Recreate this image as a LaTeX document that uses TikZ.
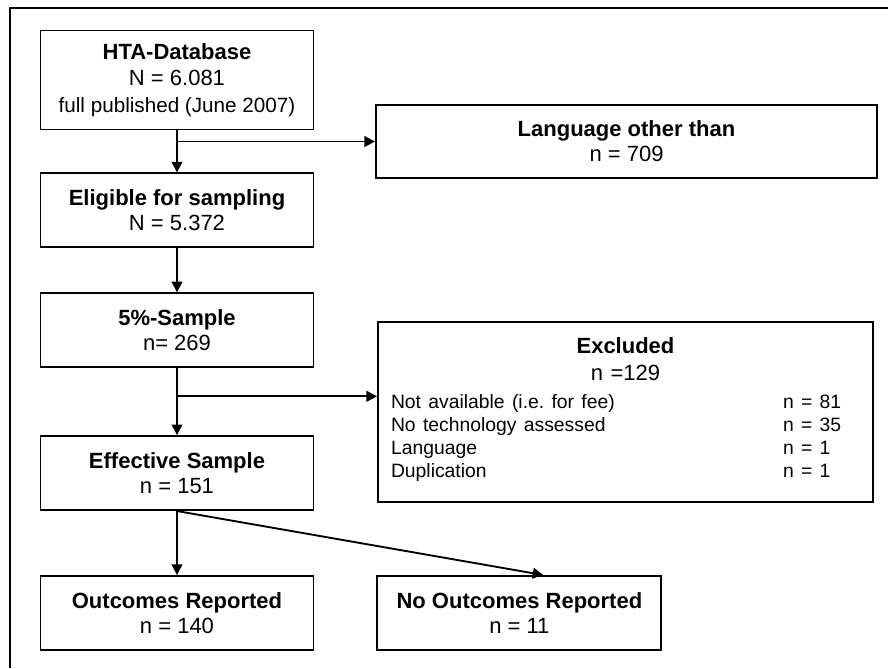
\documentclass[tikz,border=0pt]{standalone}
\usepackage{fontspec}
\setmainfont{Liberation Sans}
\usetikzlibrary{arrows.meta,positioning,calc}
\tikzset{
  >={Triangle[length=8pt,width=8pt]},
  every picture/.append style={line width=1.4pt},
}
\newcommand{\exclrow}[2]{\makebox[\linewidth][l]{\fontsize{14.5}{17.25}\selectfont\makebox[294pt][l]{#1}#2}}

\begin{document}
\begin{tikzpicture}[
  x=0.75pt, y=-0.75pt,
  font=\fontsize{16.5}{18.75}\selectfont,
  box/.style={rectangle, draw, align=center, inner sep=0pt, minimum width=204.75pt, minimum height=55.5pt},
  widebox/.style={box, minimum width=375.75pt},
  arrow/.style={->},
  frame/.style={line width=2pt}
]

\useasboundingbox (0,0) rectangle (888,668);
\draw[frame] (10,668) -- (10,8) -- (888,8);

% --- main column ---
\node[box, minimum height=74.25pt] (hta) at (177,80) {%
  \textbf{HTA-Database}\\[0.5pt]
  N = 6.081\\[1.5pt]
  {\fontsize{15.5}{17}\selectfont full published (June 2007)}
};
\node[box, below=31.5pt of hta] (elig) {\textbf{Eligible for sampling}\\ N = 5.372};
\node[box, below=33pt of elig] (samp) {\textbf{5\%-Sample}\\ n= 269};
\node[box, below=50.25pt of samp] (eff) {\textbf{Effective Sample}\\ n = 151};
\node[box, below=48pt of eff] (outc) {\textbf{Outcomes Reported}\\ n = 140};
\node[box, minimum width=213pt, right=46.5pt of outc] (noout) {\textbf{No Outcomes Reported}\\ n = 11};

% --- side boxes ---
\node[widebox, minimum height=54.75pt] (lang) at (626.5,141.5) {\textbf{Language other than}\\ n = 709};
\node[box, minimum width=371.25pt, minimum height=135pt, text width=351.75pt] (excl) at (625.5,412) {%
  \textbf{Excluded}\\[2pt]
  n =129\\[2pt]
  \exclrow{Not available (i.e.\ for fee)}{n = 81}\\[-1.5pt]
  \exclrow{No technology assessed}{n = 35}\\[-1.5pt]
  \exclrow{Language}{n = 1}\\[-1.5pt]
  \exclrow{Duplication}{n = 1}\\[-11.75pt]
  \mbox{}
};

% --- connectors ---
\draw[arrow] (hta) -- (elig);
\draw[arrow] (hta.south |- lang.west) -- (lang.west);
\draw[arrow] (elig) -- (samp);
\draw[arrow] (samp) -- (eff);
\coordinate (split) at ($(samp.south)!0.42!(eff.north)$);
\draw[arrow] (split) -- (split -| excl.west);
\draw[arrow] (eff) -- (outc);
\draw[arrow] (eff.south) -- ([xshift=18pt]noout.north);

\end{tikzpicture}
\end{document}
